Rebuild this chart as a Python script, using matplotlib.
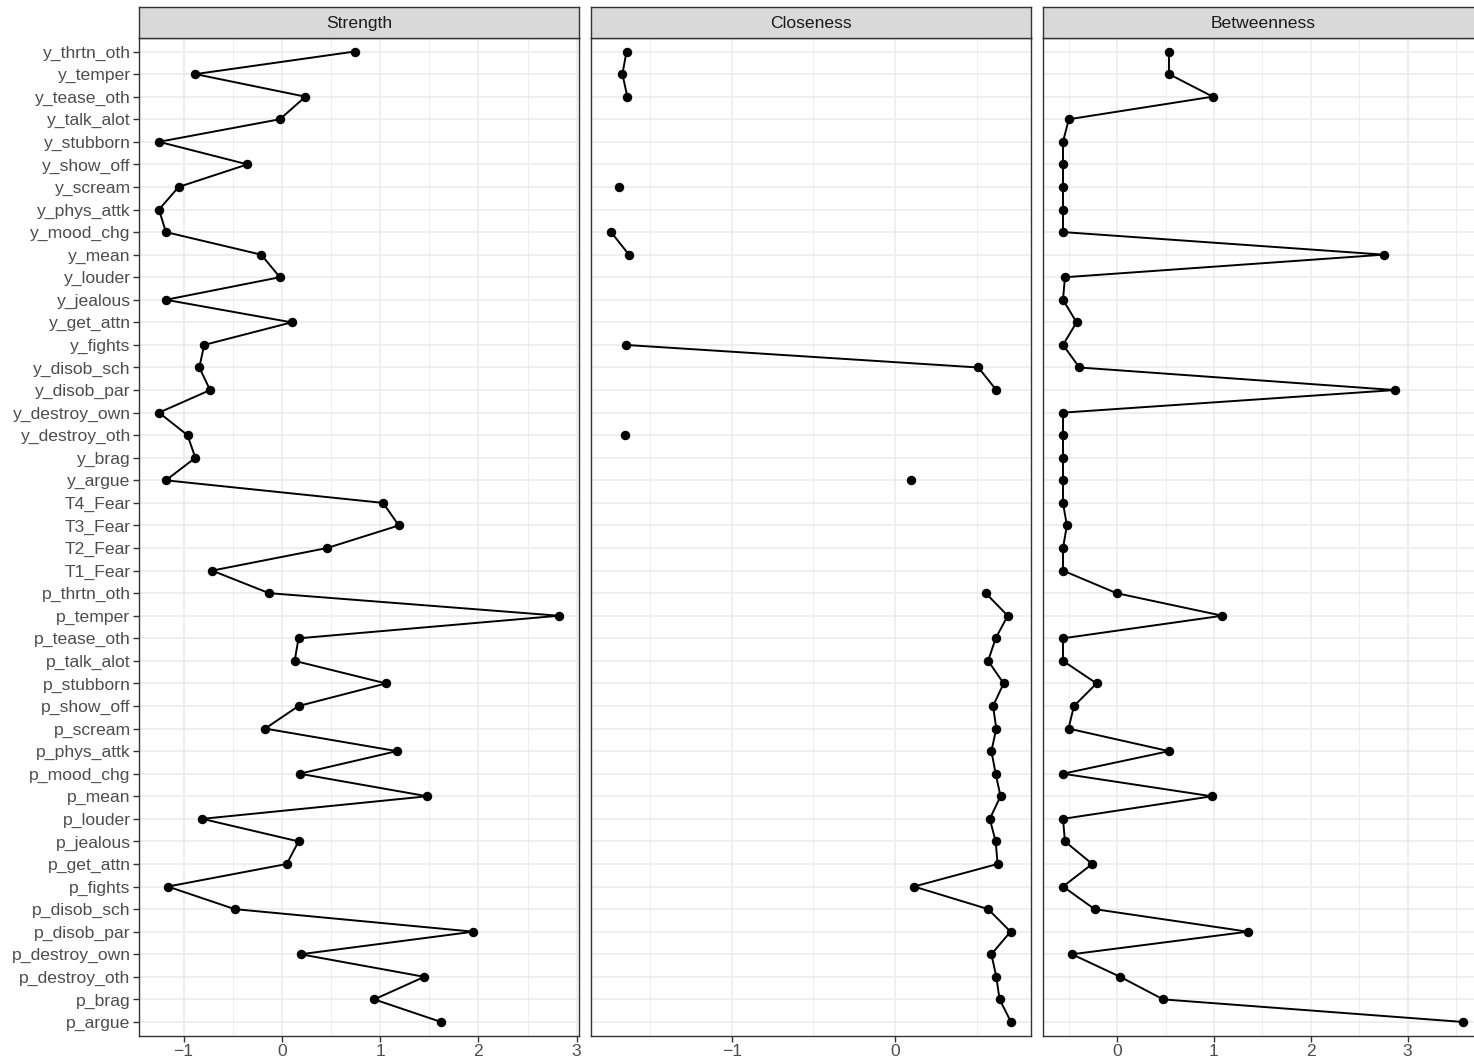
import numpy as np
import matplotlib
matplotlib.use("Agg")
import matplotlib.pyplot as plt
from matplotlib.ticker import MultipleLocator

nan = np.nan

nodes = ["y_thrtn_oth", "y_temper", "y_tease_oth", "y_talk_alot", "y_stubborn",
         "y_show_off", "y_scream", "y_phys_attk", "y_mood_chg", "y_mean",
         "y_louder", "y_jealous", "y_get_attn", "y_fights", "y_disob_sch",
         "y_disob_par", "y_destroy_own", "y_destroy_oth", "y_brag", "y_argue",
         "T4_Fear", "T3_Fear", "T2_Fear", "T1_Fear",
         "p_thrtn_oth", "p_temper", "p_tease_oth", "p_talk_alot", "p_stubborn",
         "p_show_off", "p_scream", "p_phys_attk", "p_mood_chg", "p_mean",
         "p_louder", "p_jealous", "p_get_attn", "p_fights", "p_disob_sch",
         "p_disob_par", "p_destroy_own", "p_destroy_oth", "p_brag", "p_argue"]

strength = [0.74, -0.88, 0.24, -0.02, -1.25, -0.35, -1.05, -1.25, -1.18, -0.21,
            -0.02, -1.18, 0.10, -0.79, -0.84, -0.73, -1.25, -0.96, -0.88, -1.18,
            1.03, 1.19, 0.46, -0.71,
            -0.13, 2.82, 0.17, 0.13, 1.06, 0.17, -0.17, 1.17, 0.18, 1.48,
            -0.81, 0.17, 0.05, -1.16, -0.48, 1.95, 0.19, 1.45, 0.94, 1.62]

closeness = [-1.645, -1.67, -1.64, nan, nan, nan, -1.69, nan, -1.74, -1.63,
             nan, nan, nan, -1.65, 0.51, 0.62, nan, -1.655, nan, 0.10,
             nan, nan, nan, nan,
             0.555, 0.69, 0.616, 0.57, 0.665, 0.60, 0.62, 0.59, 0.616, 0.646,
             0.58, 0.616, 0.628, 0.116, 0.57, 0.707, 0.59, 0.62, 0.64, 0.71]

betweenness = [0.535, 0.535, 0.988, -0.50, -0.56, -0.56, -0.56, -0.56, -0.56, 2.755,
               -0.54, -0.56, -0.42, -0.56, -0.39, 2.87, -0.56, -0.56, -0.56, -0.56,
               -0.56, -0.52, -0.56, -0.56,
               -0.007, 1.086, -0.56, -0.56, -0.213, -0.447, -0.503, 0.535, -0.56, 0.978,
               -0.56, -0.54, -0.258, -0.56, -0.234, 1.35, -0.467, 0.031, 0.475, 3.573]

panels = [("Strength", strength), ("Closeness", closeness), ("Betweenness", betweenness)]

plt.rcParams["font.family"] = ["Liberation Sans", "DejaVu Sans"]

W, H = 1474, 1060
fig = plt.figure(figsize=(W / 100, H / 100), dpi=100)

# panel geometry in pixels, third panel runs past the right edge like the original
lefts = [139, 591, 1043]
pw = 440
top, bottom = 38, 1035.5
strip_top = 7

ypos = np.arange(len(nodes))
for k, (name, vals) in enumerate(panels):
    ax = fig.add_axes([lefts[k] / W, 1 - bottom / H, pw / W, (bottom - top) / H])
    ax.plot(vals, ypos, color="black", lw=1.4, marker="o", ms=5.8, zorder=3)
    ax.margins(x=0.05)
    ax.set_ylim(len(nodes) - 0.4, -0.6)
    ax.set_yticks(ypos)
    if k == 0:
        ax.set_yticklabels(nodes)
    else:
        ax.tick_params(axis="y", left=False, labelleft=False)
    ax.xaxis.set_major_locator(MultipleLocator(1))
    ax.xaxis.set_minor_locator(MultipleLocator(0.5))
    ax.grid(which="major", color="#EBEBEB", lw=1.1, zorder=0)
    ax.grid(which="minor", axis="x", color="#EBEBEB", lw=0.6, zorder=0)
    ax.set_axisbelow(True)
    ax.tick_params(axis="both", which="major", length=4, width=1.0, color="#333333",
                   labelcolor="#4D4D4D", labelsize=12.6, pad=2)
    ax.tick_params(axis="x", which="minor", length=0)
    for s in ax.spines.values():
        s.set_color("#333333")
        s.set_linewidth(1.0)

    sax = fig.add_axes([lefts[k] / W, 1 - top / H, pw / W, (top - strip_top) / H])
    sax.set_facecolor("#D9D9D9")
    sax.set_xticks([])
    sax.set_yticks([])
    for s in sax.spines.values():
        s.set_color("#333333")
        s.set_linewidth(1.0)
    sax.text(0.5, 0.47, name, ha="center", va="center", fontsize=12.6,
             color="#1A1A1A", transform=sax.transAxes)

fig.savefig("out.png", dpi=100)
